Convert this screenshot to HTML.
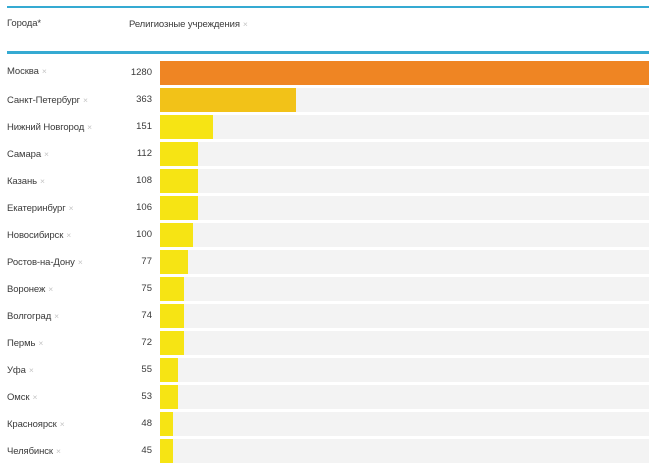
<!DOCTYPE html>
<html><head><meta charset="utf-8">
<style>
html,body{margin:0;padding:0;background:#fff;}
body{width:650px;height:465px;position:relative;overflow:hidden;font-family:"Liberation Sans",Arial,sans-serif;}
.line{position:absolute;left:7px;right:1px;background:#35aad2;}
.t{position:absolute;font-size:9.5px;color:#3a3a3a;white-space:nowrap;line-height:14px;letter-spacing:-0.1px;}
.x{color:#c4c4c4;font-size:8.5px;margin-left:3px;}
.n{position:absolute;width:40px;left:112px;text-align:right;font-size:9.5px;color:#3a3a3a;line-height:14px;}
.bg{position:absolute;left:160px;width:489px;height:24px;background:#f3f3f3;}
.bar{position:absolute;left:160px;height:24px;}
</style></head><body>
<div class="line" style="top:6px;height:2px;"></div>
<div class="line" style="top:51px;height:3px;"></div>
<div class="t" style="left:7px;top:16.5px;">Города*</div>
<div class="t" style="left:129px;top:16.5px;">Религиозные учреждения<span class="x">×</span></div>

<div class="bg" style="top:61px"></div><div class="bar" style="top:61px;width:489px;background:#ef8523"></div>
<div class="t" style="left:7px;top:64px">Москва<span class="x">×</span></div><div class="n" style="top:66px">1280</div>

<div class="bg" style="top:88px"></div><div class="bar" style="top:88px;width:136px;background:#f2c218"></div>
<div class="t" style="left:7px;top:92.6px">Санкт-Петербург<span class="x">×</span></div><div class="n" style="top:92.6px">363</div>

<div class="bg" style="top:115px"></div><div class="bar" style="top:115px;width:53px;background:#f6e414"></div>
<div class="t" style="left:7px;top:119.6px">Нижний Новгород<span class="x">×</span></div><div class="n" style="top:119.6px">151</div>

<div class="bg" style="top:142px"></div><div class="bar" style="top:142px;width:38px;background:#f6e414"></div>
<div class="t" style="left:7px;top:146.6px">Самара<span class="x">×</span></div><div class="n" style="top:146.6px">112</div>

<div class="bg" style="top:169px"></div><div class="bar" style="top:169px;width:38px;background:#f6e414"></div>
<div class="t" style="left:7px;top:173.6px">Казань<span class="x">×</span></div><div class="n" style="top:173.6px">108</div>

<div class="bg" style="top:196px"></div><div class="bar" style="top:196px;width:38px;background:#f6e414"></div>
<div class="t" style="left:7px;top:200.6px">Екатеринбург<span class="x">×</span></div><div class="n" style="top:200.6px">106</div>

<div class="bg" style="top:223px"></div><div class="bar" style="top:223px;width:33px;background:#f6e414"></div>
<div class="t" style="left:7px;top:227.6px">Новосибирск<span class="x">×</span></div><div class="n" style="top:227.6px">100</div>

<div class="bg" style="top:250px"></div><div class="bar" style="top:250px;width:28px;background:#f6e414"></div>
<div class="t" style="left:7px;top:254.6px">Ростов-на-Дону<span class="x">×</span></div><div class="n" style="top:254.6px">77</div>

<div class="bg" style="top:277px"></div><div class="bar" style="top:277px;width:24px;background:#f6e414"></div>
<div class="t" style="left:7px;top:281.6px">Воронеж<span class="x">×</span></div><div class="n" style="top:281.6px">75</div>

<div class="bg" style="top:304px"></div><div class="bar" style="top:304px;width:24px;background:#f6e414"></div>
<div class="t" style="left:7px;top:308.6px">Волгоград<span class="x">×</span></div><div class="n" style="top:308.6px">74</div>

<div class="bg" style="top:331px"></div><div class="bar" style="top:331px;width:24px;background:#f6e414"></div>
<div class="t" style="left:7px;top:335.6px">Пермь<span class="x">×</span></div><div class="n" style="top:335.6px">72</div>

<div class="bg" style="top:358px"></div><div class="bar" style="top:358px;width:18px;background:#f6e414"></div>
<div class="t" style="left:7px;top:362.6px">Уфа<span class="x">×</span></div><div class="n" style="top:362.6px">55</div>

<div class="bg" style="top:385px"></div><div class="bar" style="top:385px;width:18px;background:#f6e414"></div>
<div class="t" style="left:7px;top:389.6px">Омск<span class="x">×</span></div><div class="n" style="top:389.6px">53</div>

<div class="bg" style="top:412px"></div><div class="bar" style="top:412px;width:13px;background:#f6e414"></div>
<div class="t" style="left:7px;top:416.6px">Красноярск<span class="x">×</span></div><div class="n" style="top:416.6px">48</div>

<div class="bg" style="top:439px"></div><div class="bar" style="top:439px;width:13px;background:#f6e414"></div>
<div class="t" style="left:7px;top:443.6px">Челябинск<span class="x">×</span></div><div class="n" style="top:443.6px">45</div>
</body></html>
